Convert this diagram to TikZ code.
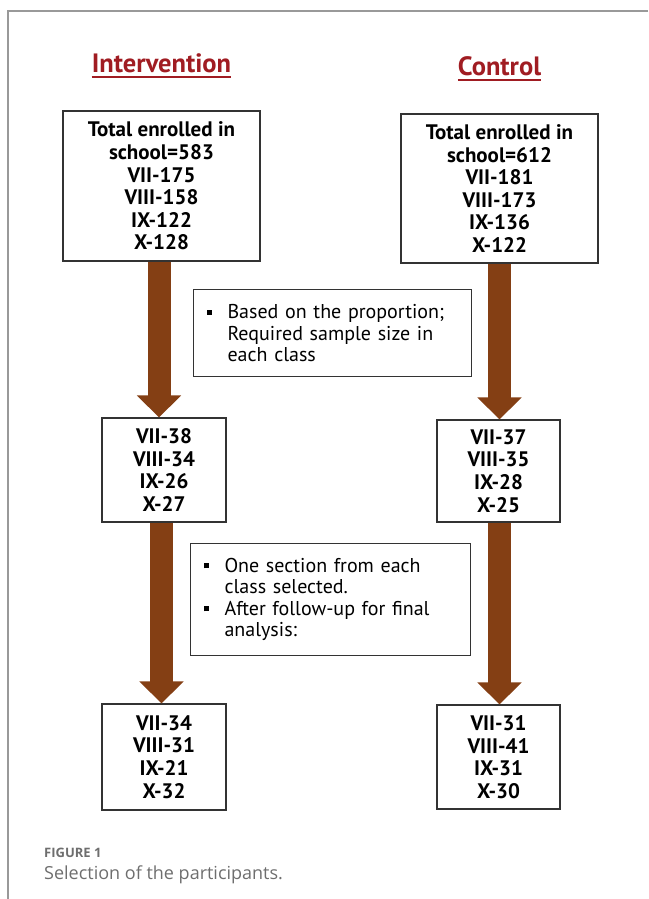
\documentclass[tikz,border=0pt]{standalone}
\usepackage{fontspec}
\setmainfont{PT Sans}
\newfontfamily\capfont{Open Sans}
\usetikzlibrary{arrows.meta}
\definecolor{boxline}{HTML}{333333}
\definecolor{arrowbrown}{HTML}{843F14}
\definecolor{titlered}{HTML}{A01C22}
\definecolor{framegray}{HTML}{999999}
\definecolor{capgray}{HTML}{6E6E6E}
\newcommand{\sqbullet}{\makebox[21pt][l]{\raisebox{4pt}{\rule{5pt}{5pt}}}}
\newcommand{\bulletgap}{\hspace*{21pt}}
\tikzset{
  countbox/.style={draw=boxline, line width=1.1pt, fill=white, align=center, inner sep=0pt,
    font=\bfseries\fontsize{21}{22.6}\selectfont},
  notebox/.style={draw=boxline, line width=1.1pt, fill=white, align=left, anchor=north west,
    inner xsep=13pt, inner ysep=0pt, font=\fontsize{20}{21.5}\selectfont},
  flowarrow/.style={draw=arrowbrown, line width=23pt, -{Triangle[width=43pt,length=22pt]}},
  grouptitle/.style={text=titlered, inner sep=0pt, font=\bfseries\fontsize{26.5}{30}\selectfont},
  titleline/.style={draw=titlered, line width=1.8pt},
  framerule/.style={draw=framegray, line width=1.3pt},
}
\begin{document}
\begin{tikzpicture}[x=1pt, y=-1pt]
\useasboundingbox (0,0) rectangle (648,899);
% frame
\coordinate (ftl) at (8,11);
\coordinate (ftr) at (648,11);
\coordinate (fbl) at (8,899);
\draw[framerule] (ftr) -- (ftl) -- (fbl);

% titles
\node[grouptitle, anchor=base] (tI) at (161.5,72) {Intervention};
\node[grouptitle, anchor=base] (tC) at (499.5,75) {Control};
\draw[titleline] ([yshift=-5pt]tI.base west) -- ([yshift=-5pt]tI.base east);
\draw[titleline] ([yshift=-5pt]tC.base west) -- ([yshift=-5pt]tC.base east);

% count boxes
\node[countbox, minimum width=197pt, minimum height=150pt] (b1L) at (161.5,186)
  {Total enrolled in\\school=583\\VII-175\\VIII-158\\IX-122\\X-128};
\node[countbox, minimum width=197pt, minimum height=149pt] (b1R) at (499.5,188.5)
  {Total enrolled in\\school=612\\VII-181\\VIII-173\\IX-136\\X-122};
\node[countbox, minimum width=124pt, minimum height=104pt] (b2L) at (164,470)
  {VII-38\\VIII-34\\IX-26\\X-27};
\node[countbox, minimum width=123pt, minimum height=102pt] (b2R) at (498.5,471)
  {VII-37\\VIII-35\\IX-28\\X-25};
\node[countbox, minimum width=124pt, minimum height=106pt] (b3L) at (164,757)
  {VII-34\\VIII-31\\IX-21\\X-32};
\node[countbox, minimum width=123pt, minimum height=104pt] (b3R) at (498.5,757)
  {VII-31\\VIII-41\\IX-31\\X-30};

% notes
\node[notebox, minimum width=278pt, minimum height=87pt, text width=252pt] (n1) at (193,289)
  {\sqbullet Based on the proportion;\\\bulletgap Required sample size in\\\bulletgap each class};
\node[notebox, minimum width=280pt, minimum height=112pt, text width=254pt] (n2) at (190,543)
  {\sqbullet One section from each\\\bulletgap class selected.\\\sqbullet After follow-up for final\\\bulletgap analysis:};

% arrows
\draw[flowarrow] ([xshift=-2.5pt,yshift=-0.6pt]b1L.south) -- ([xshift=-2.5pt]b1L.south |- b2L.north);
\draw[flowarrow] ([yshift=-0.6pt]b1R.south) -- (b1R.south |- b2R.north);
\draw[flowarrow] ([xshift=-2.5pt,yshift=-0.6pt]b2L.south) -- ([xshift=-2.5pt]b2L.south |- b3L.north);
\draw[flowarrow] ([xshift=1pt,yshift=-0.6pt]b2R.south) -- ([xshift=1pt]b2R.south |- b3R.north);

% caption
\node[anchor=base west, inner sep=0pt, text=capgray, font=\capfont\bfseries\fontsize{13}{15}\selectfont] (figlabel) at (44,857) {FIGURE 1};
\node[anchor=base west, inner sep=0pt, text=capgray, font=\capfont\fontsize{18}{21}\selectfont] (figcap) at (44,879) {Selection of the participants.};
\end{tikzpicture}
\end{document}
